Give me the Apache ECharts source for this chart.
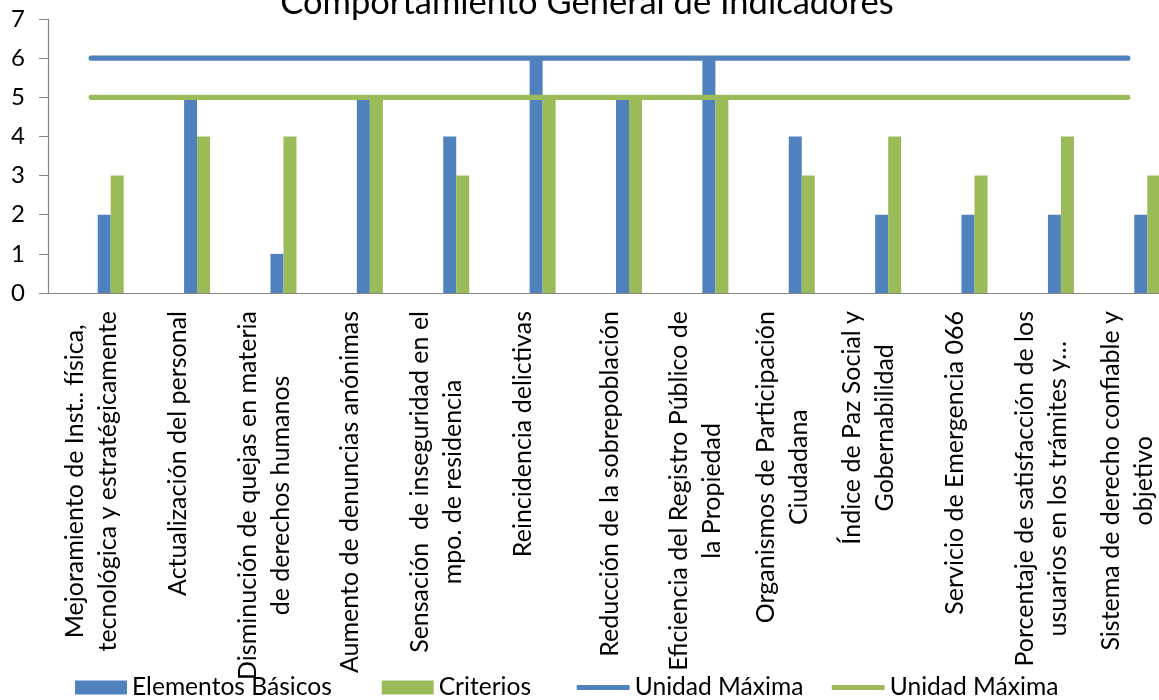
<!DOCTYPE html>
<html>
<head>
<meta charset="utf-8">
<script src="https://cdn.jsdelivr.net/npm/echarts@6/dist/echarts.min.js"></script>
<style>
  html, body { margin: 0; padding: 0; background: #fff; overflow: hidden; }
  /* el grafico original sale recortado por la derecha */
  #chart { width: 1180px; height: 700px; }
</style>
</head>
<body>
<div id="chart"></div>
<script>
// indicadores (ejes X)
const categories = [
  'Mejoramiento de Inst.. física,\ntecnológica y estratégicamente',
  'Actualización del personal',
  'Disminución de quejas en materia\nde derechos humanos',
  'Aumento de denuncias anónimas',
  'Sensación  de inseguridad en el\nmpo. de residencia',
  'Reincidencia delictivas',
  'Reducción de la sobrepoblación',
  'Eficiencia del Registro Público de\nla Propiedad',
  'Organismos de Participación\nCiudadana',
  'Índice de Paz Social y\nGobernabilidad',
  'Servicio de Emergencia 066',
  'Porcentaje de satisfacción de los\nusuarios en los trámites y…',
  'Sistema de derecho confiable y\nobjetivo'
]

const elementosBasicos = [2, 5, 1, 5, 4, 6, 5, 6, 4, 2, 2, 2, 2]
const criterios = [3, 4, 4, 5, 3, 5, 5, 5, 3, 4, 3, 4, 3]
const maxElementos = [6, 6, 6, 6, 6, 6, 6, 6, 6, 6, 6, 6, 6]
const maxCriterios = [5, 5, 5, 5, 5, 5, 5, 5, 5, 5, 5, 5, 5]
const yTicks = [0, 1, 2, 3, 4, 5, 6, 7]

const BLUE = '#4F81BD'
const GREEN = '#9BBB59'
const FONT = 'Lato'

const chart = echarts.init(document.getElementById('chart'), null, { renderer: 'canvas' })

// etiqueta del eje X con lineas centradas
function wrapLabel(value) {
  return value.split('\n').map(l => '{c|' + l + '}').join('\n')
}

function legendAt(left, name, isLine) {
  return {
    left: left,
    top: 675,
    padding: 0,
    itemWidth: isLine ? 53 : 52,
    itemHeight: isLine ? 5 : 14,
    icon: isLine ? 'roundRect' : 'rect',
    data: [name],
    selectedMode: false,
    textStyle: { fontFamily: FONT, fontSize: 24.6, color: '#000' }
  }
}

const option = {
  animation: false,
  title: {
    text: 'Comportamiento General de Indicadores',
    left: 587,
    textAlign: 'center',
    top: -15,
    padding: 0,
    textStyle: { fontFamily: FONT, fontSize: 34.5, fontWeight: 'normal', color: '#000' }
  },
  legend: [
    legendAt(75, 'Elementos Básicos', false),
    legendAt(381.7, 'Criterios', false),
    legendAt(576.7, 'Unidad Máxima', true),
    legendAt(831.7, 'Unidad Máxima ', true)
  ],
  grid: {
    left: 48,
    top: 19,
    width: 1123,
    height: 274,
    containLabel: false
  },
  xAxis: {
    type: 'category',
    data: categories,
    boundaryGap: true,
    axisLine: { lineStyle: { color: '#868686', width: 1.2 } },
    axisTick: { show: false },
    axisLabel: {
      interval: 0,
      rotate: 90,
      margin: 18,
      color: '#000',
      fontFamily: FONT,
      fontSize: 25,
      lineHeight: 33,
      formatter: wrapLabel,
      rich: {
        c: { align: 'center', fontFamily: FONT, fontSize: 25, lineHeight: 33, color: '#000' }
      }
    }
  },
  yAxis: {
    type: 'value',
    min: yTicks[0],
    max: yTicks[yTicks.length - 1],
    interval: 1,
    splitLine: { show: false },
    axisLine: { show: true, lineStyle: { color: '#868686', width: 1.2 } },
    axisTick: { show: true, length: 9, lineStyle: { color: '#868686' } },
    axisLabel: { margin: 23, color: '#000', fontFamily: FONT, fontSize: 24 }
  },
  series: [
    {
      // hueco vacio del grupo (como en el original)
      type: 'bar',
      data: [],
      barWidth: 39,
      barGap: 0
    },
    {
      name: 'Elementos Básicos',
      type: 'bar',
      data: elementosBasicos,
      barWidth: 13,
      barGap: 0,
      itemStyle: { color: BLUE }
    },
    {
      name: 'Criterios',
      type: 'bar',
      data: criterios,
      barWidth: 13,
      barGap: 0,
      itemStyle: { color: GREEN }
    },
    {
      name: 'Unidad Máxima',
      type: 'line',
      data: maxElementos,
      symbol: 'none',
      z: 5,
      lineStyle: { color: BLUE, width: 5.3, cap: 'round' },
      itemStyle: { color: BLUE }
    },
    {
      name: 'Unidad Máxima ',
      type: 'line',
      data: maxCriterios,
      symbol: 'none',
      z: 5,
      lineStyle: { color: GREEN, width: 5.3, cap: 'round' },
      itemStyle: { color: GREEN }
    }
  ]
}

chart.setOption(option)
</script>
</body>
</html>
